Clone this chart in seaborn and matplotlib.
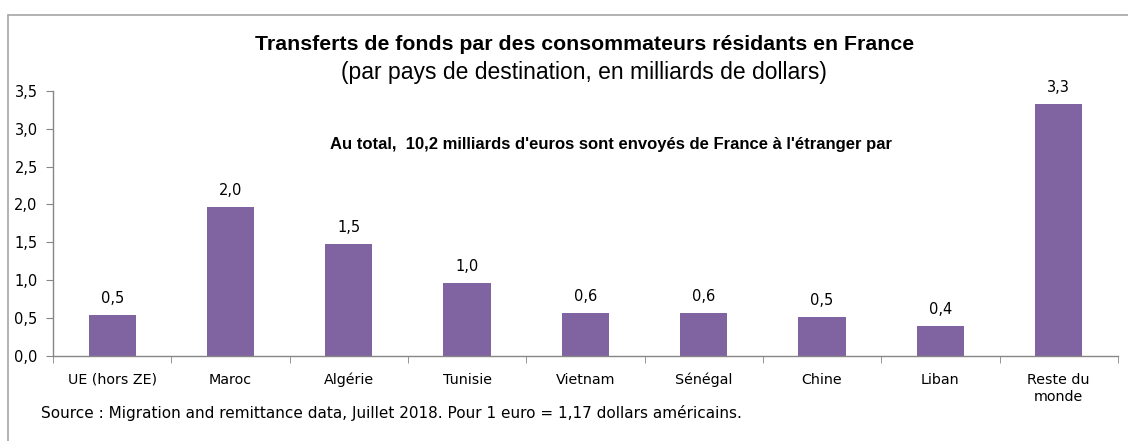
import matplotlib
matplotlib.use("Agg")
import matplotlib.pyplot as plt
import seaborn as sns
import pandas as pd
from matplotlib.lines import Line2D

# Data
pays = ['UE (hors ZE)', 'Maroc', 'Algérie', 'Tunisie', 'Vietnam',
        'Sénégal', 'Chine', 'Liban', 'Reste du\nmonde']
montants = [0.54, 1.97, 1.48, 0.96, 0.57, 0.56, 0.51, 0.39, 3.32]
yticks = [0.0, 0.5, 1.0, 1.5, 2.0, 2.5, 3.0, 3.5]

df = pd.DataFrame({'pays': pays, 'montant': montants})

sns.set_style('white')
plt.rcParams['font.family'] = ['DejaVu Sans']
plt.rcParams['text.color'] = 'black'
plt.rcParams['xtick.color'] = 'black'
plt.rcParams['ytick.color'] = 'black'
narrow = ['Liberation Sans Narrow', 'Liberation Sans', 'DejaVu Sans']

fig = plt.figure(figsize=(11.28, 4.41), dpi=100)
ax = fig.add_axes([0.047, 0.193, 0.944, 0.601])

sns.barplot(data=df, x='pays', y='montant', color='#8064A2', width=0.4,
            saturation=1, edgecolor='none', ax=ax)

ax.set_ylim(0, 3.5)
ax.set_xlim(-0.5, len(pays) - 0.5)
ax.set_yticks(yticks)
ax.set_yticklabels([f'{v:.1f}'.replace('.', ',') for v in yticks], fontsize=10.5)
ax.set_xticks(range(len(pays)))
ax.set_xticklabels(pays, fontsize=10.3, linespacing=1.3)
ax.tick_params(axis='x', length=0, pad=12)
ax.tick_params(axis='y', length=5, color='#868686', direction='out', left=True, pad=6)
# boundary ticks between categories
ax.set_xticks([i - 0.5 for i in range(len(pays) + 1)], minor=True)
ax.tick_params(axis='x', which='minor', length=5, color='#868686', direction='out', bottom=True)
ax.set_xlabel('')
ax.set_ylabel('')

for s in ['top', 'right']:
    ax.spines[s].set_visible(False)
for s in ['left', 'bottom']:
    ax.spines[s].set_color('#868686')
    ax.spines[s].set_linewidth(1)

for i, v in enumerate(montants):
    ax.text(i, v + 0.12, f'{v:.1f}'.replace('.', ','), ha='center', va='bottom',
            fontsize=10.5)

fig.text(0.518, 0.898, 'Transferts de fonds par des consommateurs résidants en France',
         ha='center', va='center', fontsize=15.3, fontweight='bold', family=narrow)
fig.text(0.518, 0.836, '(par pays de destination, en milliards de dollars)',
         ha='center', va='center', fontsize=16.5, family=['Liberation Sans'])
fig.text(0.542, 0.672, "Au total,  10,2 milliards d'euros sont envoyés de France à l'étranger par",
         ha='center', va='center', fontsize=12, fontweight='bold', family=narrow)
fig.text(0.036, 0.063, 'Source : Migration and remittance data, Juillet 2018. Pour 1 euro = 1,17 dollars américains.',
         ha='left', va='center', fontsize=11)

# partial frame like the original chart area
fig.add_artist(Line2D([0.007, 1.0], [0.966, 0.966], color='#A6A6A6', lw=1.2))
fig.add_artist(Line2D([0.007, 0.007], [0.0, 0.966], color='#A6A6A6', lw=1.2))

fig.savefig('out.png', dpi=100)
